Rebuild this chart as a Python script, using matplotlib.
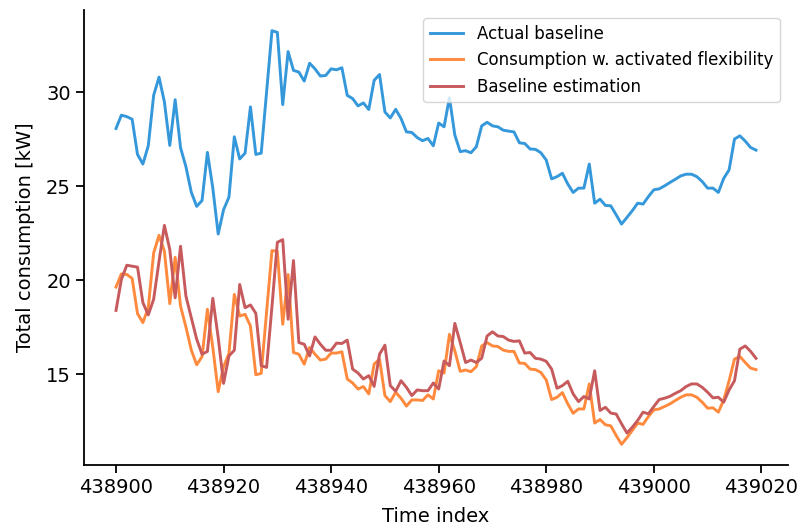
import matplotlib
matplotlib.use("Agg")
import matplotlib.pyplot as plt
import numpy as np

start_index = 438900

actual_baseline = [
    28.06, 28.77, 28.69, 28.55, 26.68, 26.17, 27.14, 29.82, 30.79, 29.47,
    27.16, 29.59, 27.04, 26.03, 24.67, 23.92, 24.23, 26.79, 24.89, 22.45,
    23.74, 24.41, 27.62, 26.44, 26.75, 29.21, 26.68, 26.75, 30.00, 33.26,
    33.17, 29.33, 32.15, 31.15, 31.06, 30.58, 31.53, 31.23, 30.85, 30.88,
    31.23, 31.18, 31.29, 29.82, 29.65, 29.26, 29.42, 29.07, 30.62, 30.93,
    28.94, 28.62, 29.08, 28.59, 27.88, 27.85, 27.58, 27.41, 27.53, 27.14,
    28.35, 28.15, 29.70, 27.71, 26.83, 26.88, 26.77, 27.09, 28.20, 28.39,
    28.20, 28.15, 27.97, 27.92, 27.88, 27.30, 27.26, 26.97, 26.95, 26.77,
    26.38, 25.38, 25.50, 25.68, 25.11, 24.66, 24.89, 24.89, 26.17, 24.09,
    24.30, 23.97, 23.95, 23.47, 22.98, 23.33, 23.69, 24.09, 24.04, 24.44,
    24.80, 24.85, 25.01, 25.19, 25.36, 25.54, 25.63, 25.63, 25.50, 25.24,
    24.89, 24.89, 24.66, 25.41, 25.86, 27.50, 27.67, 27.39, 27.05, 26.91,
]

consumption_flex = [
    19.63, 20.33, 20.30, 20.09, 18.22, 17.74, 18.53, 21.44, 22.38, 21.53,
    18.75, 21.21, 18.62, 17.51, 16.28, 15.50, 15.93, 18.45, 16.42, 14.07,
    15.40, 16.10, 19.24, 18.09, 18.18, 17.56, 14.97, 15.04, 18.30, 21.57,
    21.53, 17.65, 20.30, 16.15, 16.06, 15.53, 16.42, 16.06, 15.75, 15.80,
    16.12, 16.12, 16.19, 14.74, 14.53, 14.21, 14.34, 13.95, 15.53, 15.80,
    13.86, 13.54, 14.04, 13.72, 13.30, 13.63, 13.63, 13.60, 13.90, 13.68,
    15.18, 15.06, 17.12, 16.24, 15.15, 15.22, 15.13, 15.40, 16.50, 16.68,
    16.50, 16.47, 16.28, 16.21, 16.21, 15.59, 15.57, 15.27, 15.24, 15.09,
    14.69, 13.65, 13.77, 14.02, 13.42, 12.92, 13.15, 13.15, 14.48, 12.40,
    12.59, 12.31, 12.25, 11.74, 11.27, 11.62, 12.01, 12.40, 12.33, 12.75,
    13.10, 13.15, 13.28, 13.42, 13.60, 13.77, 13.90, 13.90, 13.77, 13.51,
    13.19, 13.21, 12.98, 13.63, 14.65, 15.80, 15.94, 15.62, 15.32, 15.24,
]

baseline_estimation = [
    18.39, 20.03, 20.79, 20.74, 20.69, 18.80, 18.15, 18.98, 21.00, 22.91,
    21.62, 19.06, 21.80, 19.15, 18.00, 16.86, 16.06, 16.21, 19.03, 16.95,
    14.51, 15.97, 16.27, 19.77, 18.53, 18.68, 18.23, 15.45, 15.36, 18.60,
    22.01, 22.15, 17.92, 21.04, 16.68, 16.59, 15.97, 16.98, 16.59, 16.27,
    16.27, 16.65, 16.63, 16.81, 15.27, 15.06, 14.74, 14.92, 14.35, 16.06,
    16.54, 14.39, 14.09, 14.65, 14.30, 13.86, 14.16, 14.12, 14.12, 14.53,
    14.21, 15.70, 15.45, 17.70, 16.68, 15.62, 15.75, 15.62, 15.85, 17.03,
    17.25, 17.03, 17.00, 16.81, 16.74, 16.77, 16.12, 16.15, 15.84, 15.80,
    15.68, 15.27, 14.25, 14.39, 14.62, 13.95, 13.54, 13.81, 13.68, 15.18,
    13.07, 13.24, 12.93, 12.88, 12.36, 11.87, 12.18, 12.54, 12.98, 12.89,
    13.28, 13.65, 13.72, 13.82, 13.98, 14.12, 14.34, 14.48, 14.48, 14.30,
    14.04, 13.74, 13.77, 13.51, 14.16, 14.65, 16.33, 16.50, 16.21, 15.84,
]

series_labels = ["Actual baseline", "Consumption w. activated flexibility", "Baseline estimation"]

x = np.arange(start_index, start_index + len(actual_baseline))

plt.rcParams['font.family'] = ['DejaVu Sans']
fig = plt.figure(figsize=(8.02, 5.28), dpi=100)
ax = fig.add_axes([84 / 802, 1 - 465 / 528, (788 - 84) / 802, (465 - 10) / 528])

ax.plot(x, actual_baseline, color='#3498db', lw=2.1, label=series_labels[0])
ax.plot(x, consumption_flex, color='#ff8a3d', lw=2.1, label=series_labels[1])
ax.plot(x, baseline_estimation, color='#c75a5c', lw=2.1, label=series_labels[2])

ax.set_xticks([438900, 438920, 438940, 438960, 438980, 439000, 439020])
ax.set_yticks([15, 20, 25, 30])
ax.tick_params(labelsize=14, width=1.3, length=6)
ax.set_xlabel("Time index", fontsize=14, labelpad=7)
ax.set_ylabel("Total consumption [kW]", fontsize=14, labelpad=8)
for s in ['top', 'right']:
    ax.spines[s].set_visible(False)
for s in ['left', 'bottom']:
    ax.spines[s].set_linewidth(1.3)

ax.legend(loc='upper right', fontsize=12, frameon=True, handlelength=2.0)

fig.savefig("out.png", dpi=100)
